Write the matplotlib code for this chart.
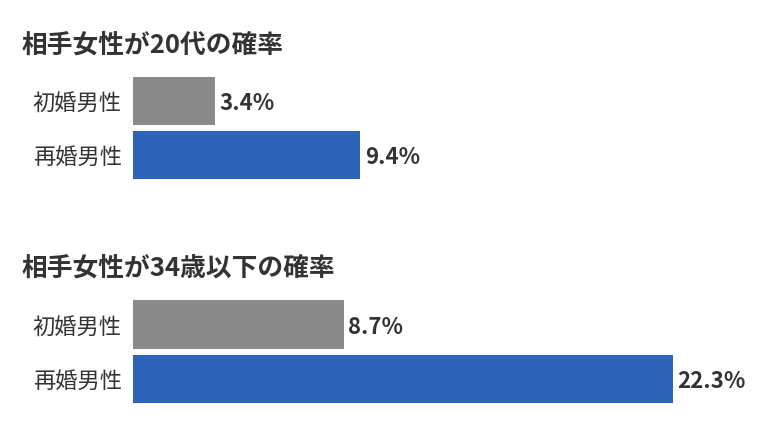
import matplotlib
matplotlib.use("Agg")
import matplotlib.pyplot as plt

plt.rcParams['font.family'] = ['Noto Sans CJK JP', 'DejaVu Sans']

titles = ["相手女性が20代の確率", "相手女性が34歳以下の確率"]
categories = ["初婚男性", "再婚男性"]
values_20s = [3.4, 9.4]
values_34 = [8.7, 22.3]
colors = ["#8a8a8a", "#2e64b7"]
text_color = "#333333"

W, H = 760, 428
fig = plt.figure(figsize=(W / 100, H / 100), dpi=100)

px_per_unit = 24.2
ax_left_px = 133
ax_width_px = 600

panels = [
    (titles[0], values_20s, 74, 182, 45),
    (titles[1], values_34, 297.5, 406, 268),
]

for title, vals, top_px, bot_px, title_y in panels:
    ax = fig.add_axes([ax_left_px / W, 1 - bot_px / H, ax_width_px / W, (bot_px - top_px) / H])
    ypos = list(range(len(categories)))
    ax.barh(ypos, vals, height=0.89, color=colors)
    ax.set_xlim(0, ax_width_px / px_per_unit)
    ax.set_ylim(len(categories) - 0.5, -0.5)
    ax.set_yticks(ypos)
    ax.set_yticklabels(categories, fontsize=16, color=text_color)
    ax.tick_params(axis='y', length=0, pad=8)
    ax.set_xticks([])
    for s in ax.spines.values():
        s.set_visible(False)
    for y, v in zip(ypos, vals):
        ax.annotate(f"{v}%", xy=(v, y), xytext=(3, -2), textcoords="offset points",
                    ha="left", va="center", fontsize=16, fontweight="bold", color=text_color)
    fig.text(22 / W, 1 - title_y / H, title, ha="left", va="center",
             fontsize=18.5, fontweight="bold", color=text_color)

fig.savefig("out.png", dpi=100, facecolor="white")
